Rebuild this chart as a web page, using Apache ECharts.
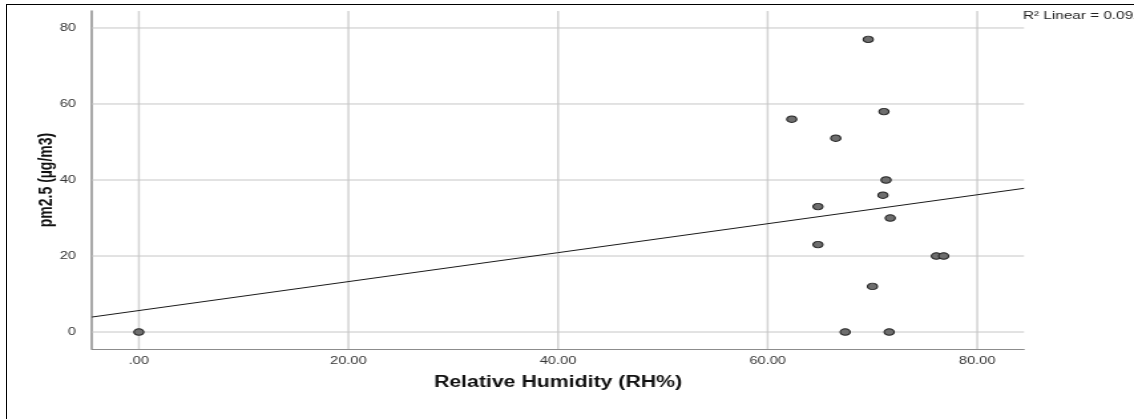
<!DOCTYPE html>
<html>
<head>
<meta charset="utf-8">
<script src="https://cdn.jsdelivr.net/npm/echarts@6/dist/echarts.min.js"></script>
<style>
  html, body { margin: 0; padding: 0; background: #fff; overflow: hidden; }
  body { width: 1134px; height: 419px; position: relative; }
  #frame {
    position: absolute; left: 6px; top: 4px; right: -2px; bottom: -2px;
    border-left: 1.5px solid #000; border-top: 1.5px solid #000;
  }
  /* the chart is laid out narrow and widened horizontally, like the exported figure */
  #chart {
    position: absolute; left: 0; top: 0; width: 853px; height: 419px;
    transform: scaleX(1.32943); transform-origin: 0 0;
  }
</style>
</head>
<body>
<div id="frame"></div>
<div id="chart"></div>
<script>
// Observations: relative humidity (%) and PM2.5 (µg/m3)
const humidity = [0, 62.3, 64.8, 64.8, 66.5, 67.4, 69.6, 70.0, 71.0, 71.1, 71.3, 71.6, 71.7, 76.1, 76.8];
const pm25     = [0, 56,   33,   23,   51,   0,    77,   12,   36,   58,   40,   0,    30,   20,   20];

// Axis ticks
const xTicks = [0, 20, 40, 60, 80];
const yTicks = [0, 20, 40, 60, 80];
const xRange = [-4.47, 84.47];
const yRange = [-4.47, 84.47];

// Ordinary least-squares fit of pm2.5 on humidity
const n = humidity.length;
const mx = humidity.reduce((a, b) => a + b, 0) / n;
const my = pm25.reduce((a, b) => a + b, 0) / n;
let sxy = 0, sxx = 0, syy = 0;
for (let i = 0; i < n; i++) {
  const dx = humidity[i] - mx, dy = pm25[i] - my;
  sxy += dx * dy; sxx += dx * dx; syy += dy * dy;
}
const slope = sxy / sxx;
const intercept = my - slope * mx;
const r2 = (sxy * sxy) / (sxx * syy);

const FONT = "'Liberation Sans', Arial, Helvetica, sans-serif";
const chart = echarts.init(document.getElementById('chart'), null, { renderer: 'canvas' });

const gridSeries = [];
xTicks.forEach(v => gridSeries.push({
  type: 'line', silent: true, symbol: 'none', z: 1, animation: false,
  data: [[v, yRange[0]], [v, yRange[1]]],
  lineStyle: { color: '#d3d3d3', width: 1.5 }
}));
yTicks.forEach(v => gridSeries.push({
  type: 'line', silent: true, symbol: 'none', z: 1, animation: false,
  data: [[xRange[0], v], [xRange[1], v]],
  lineStyle: { color: '#c6c6c6', width: 1 }
}));

chart.setOption({
  animation: false,
  backgroundColor: 'transparent',
  grid: { left: 69.2, right: 82.7, top: 11, bottom: 70, containLabel: false },
  xAxis: {
    type: 'value', min: xRange[0], max: xRange[1],
    axisLine: { show: true, onZero: false, lineStyle: { color: '#8c8c8c', width: 1.2 } },
    axisTick: { show: false },
    splitLine: { show: false },
    axisLabel: {
      customValues: xTicks,
      formatter: v => (v === 0 ? '.00' : v.toFixed(2)),
      fontFamily: FONT, fontSize: 11, color: '#333', margin: 6
    },
    name: 'Relative Humidity (RH%)', nameLocation: 'middle', nameGap: 26,
    nameMoveOverlap: false,
    nameTextStyle: { fontFamily: FONT, fontSize: 16, fontWeight: 'bold', color: '#111' }
  },
  yAxis: {
    type: 'value', min: yRange[0], max: yRange[1],
    axisLine: { show: true, onZero: false, lineStyle: { color: '#8c8c8c', width: 1.5 } },
    axisTick: { show: false },
    splitLine: { show: false },
    axisLabel: {
      customValues: yTicks,
      formatter: v => String(v),
      fontFamily: FONT, fontSize: 11, color: '#333', margin: 12
    },
    name: 'pm2.5 (µg/m3)', nameLocation: 'middle', nameGap: 27,
    nameMoveOverlap: false,
    nameTextStyle: { fontFamily: FONT, fontSize: 14, fontWeight: 'bold', color: '#111' }
  },
  graphic: [{
    type: 'text', left: 769.5, top: 10, silent: true,
    style: {
      text: 'R² Linear = ' + r2.toFixed(3),
      font: '11.5px ' + FONT, fill: '#222'
    }
  }],
  series: gridSeries.concat([
    {
      type: 'line', silent: true, symbol: 'none', z: 2,
      data: [[xRange[0], intercept + slope * xRange[0]], [xRange[1], intercept + slope * xRange[1]]],
      lineStyle: { color: '#1a1a1a', width: 1 }
    },
    {
      type: 'scatter', z: 3,
      symbol: 'circle', symbolSize: [7.5, 6.5],
      data: humidity.map((h, i) => [h, pm25[i]]),
      itemStyle: { color: '#6e6e6e', borderColor: '#262626', borderWidth: 1, opacity: 1 }
    }
  ])
});
</script>
</body>
</html>
